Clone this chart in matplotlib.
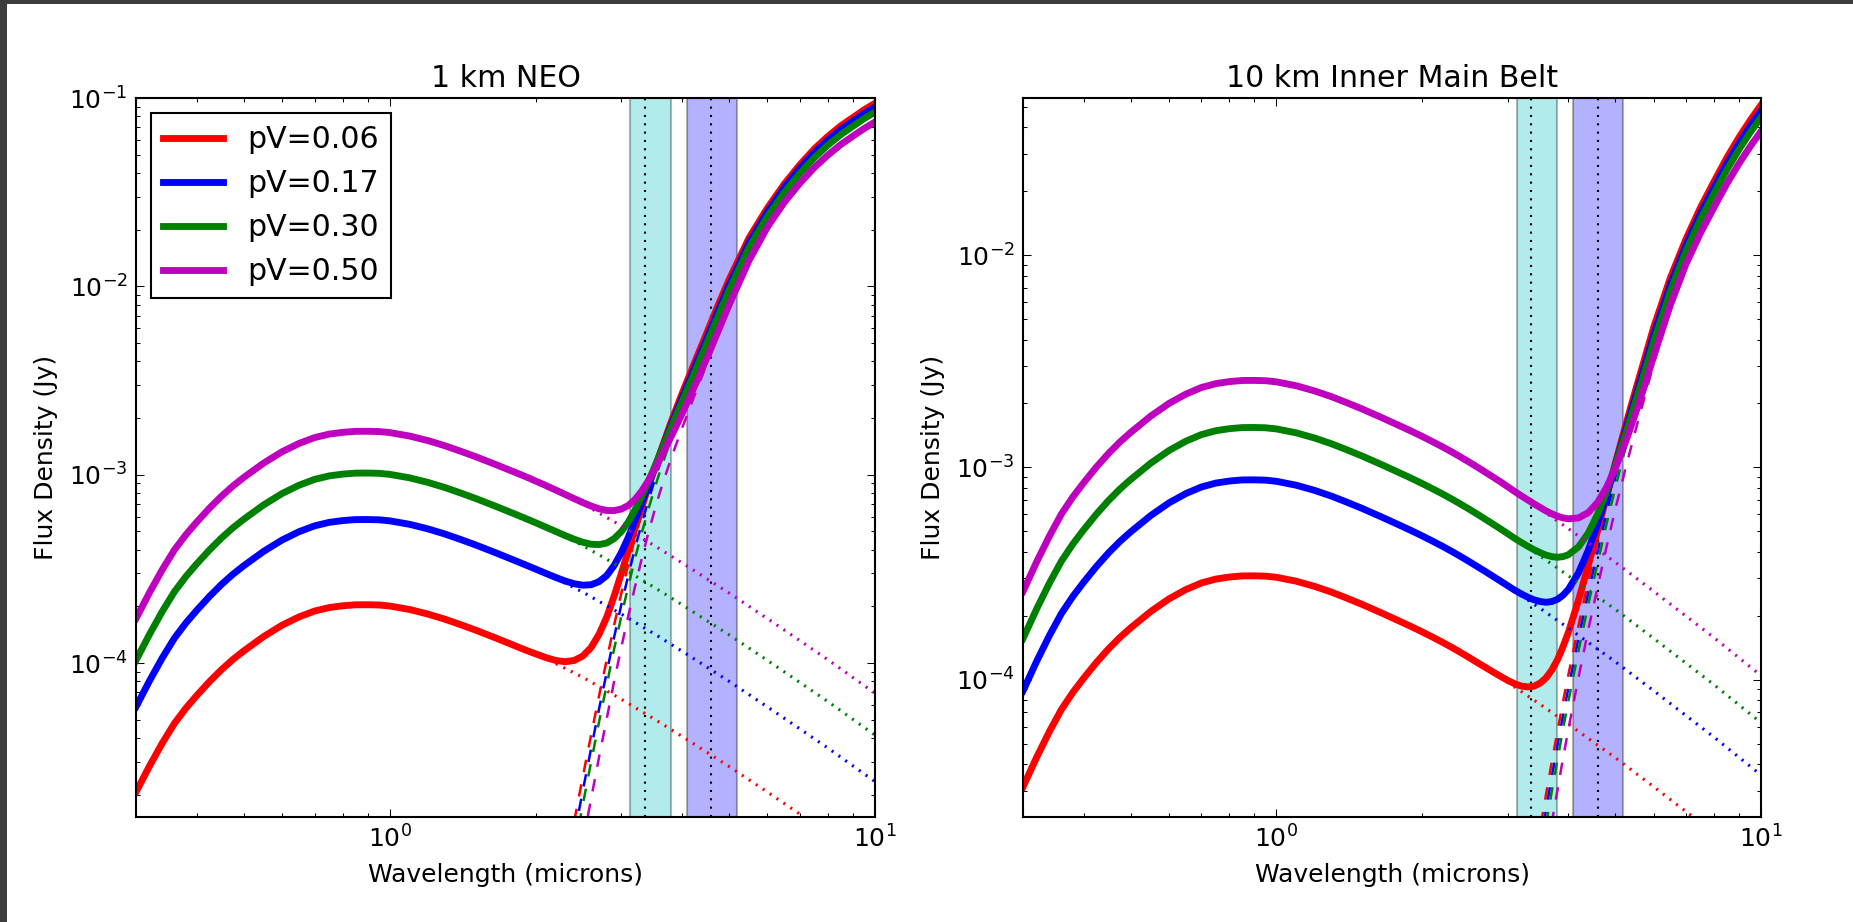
import matplotlib.pyplot as plt
from matplotlib.patches import Rectangle

plt.rcParams['axes.unicode_minus'] = False
plt.rcParams['font.family'] = ['DejaVu Sans']
plt.rcParams['mathtext.fontset'] = 'dejavusans'

albedo_labels = ['pV=0.06', 'pV=0.17', 'pV=0.30', 'pV=0.50']
albedo_colors = ['r', 'b', 'g', 'm']

# WISE-like bandpasses and their reference wavelengths (microns)
band_w1 = (3.13, 3.80)
band_w2 = (4.10, 5.20)
band_centres = [3.35, 4.60]

# ---------------- 1 km NEO ----------------
wave_neo = [0.30, 0.32, 0.34, 0.36, 0.38, 0.40, 0.425, 0.45, 0.475, 0.50, 0.55, 0.60, 0.65,
            0.70, 0.75, 0.80, 0.85, 0.90, 0.95, 1.0, 1.1, 1.2, 1.3, 1.4, 1.5, 1.65, 1.8, 1.9,
            2.0, 2.1, 2.2, 2.3, 2.4, 2.5, 2.6, 2.7, 2.8, 2.9, 3.0, 3.1, 3.2, 3.3, 3.4, 3.5,
            3.6, 3.8, 4.0, 4.25, 4.5, 4.75, 5.0, 5.5, 6.0, 6.5, 7.0, 7.5, 8.0, 8.5, 9.0,
            9.5, 10.0]
total_neo = [
    [2.07e-5, 2.85e-5, 3.77e-5, 4.79e-5, 5.76e-5, 6.72e-5, 7.97e-5, 9.23e-5, 1.045e-4, 1.16e-4,
     1.385e-4, 1.59e-4, 1.759e-4, 1.89e-4, 1.972e-4, 2.016e-4, 2.04e-4, 2.042e-4, 2.035e-4, 2.01e-4,
     1.925e-4, 1.82e-4, 1.71e-4, 1.60e-4, 1.50e-4, 1.363e-4, 1.245e-4, 1.176e-4, 1.119e-4, 1.069e-4,
     1.0325e-4, 1.0176e-4, 1.0336e-4, 1.0907e-4, 1.2108e-4, 1.4238e-4, 1.7547e-4, 2.2686e-4,
     2.9835e-4, 3.931e-4,
     5.182e-4, 6.645e-4, 8.43e-4, 1.05e-3, 1.288e-3, 1.904e-3, 2.681e-3, 3.947e-3, 5.644e-3, 7.93e-3,
     1.081e-2, 1.806e-2, 2.602e-2, 3.49e-2, 4.42e-2, 5.37e-2, 6.26e-2, 7.11e-2, 7.87e-2, 8.66e-2, 9.37e-2],
    [5.864e-5, 8.074e-5, 1.068e-4, 1.357e-4, 1.632e-4, 1.904e-4, 2.258e-4, 2.615e-4, 2.961e-4, 3.286e-4,
     3.924e-4, 4.504e-4, 4.983e-4, 5.354e-4, 5.587e-4, 5.711e-4, 5.779e-4, 5.785e-4, 5.765e-4, 5.694e-4,
     5.454e-4, 5.156e-4, 4.844e-4, 4.533e-4, 4.25e-4, 3.861e-4, 3.527e-4, 3.331e-4, 3.154e-4, 2.991e-4,
     2.8476e-4, 2.7269e-4, 2.6389e-4, 2.5924e-4, 2.6065e-4, 2.7075e-4, 2.9177e-4, 3.2965e-4,
     3.858e-4, 4.635e-4,
     5.702e-4, 6.992e-4, 8.592e-4, 1.048e-3, 1.267e-3, 1.828e-3, 2.538e-3, 3.705e-3, 5.276e-3, 7.408e-3,
     1.012e-2, 1.705e-2, 2.478e-2, 3.342e-2, 4.229e-2, 5.134e-2, 5.984e-2, 6.793e-2, 7.523e-2, 8.273e-2,
     8.952e-2],
    [1.035e-4, 1.425e-4, 1.885e-4, 2.395e-4, 2.88e-4, 3.36e-4, 3.985e-4, 4.615e-4, 5.225e-4, 5.8e-4,
     6.925e-4, 7.95e-4, 8.795e-4, 9.45e-4, 9.86e-4, 1.008e-3, 1.02e-3, 1.021e-3, 1.0175e-3, 1.005e-3,
     9.625e-4, 9.1e-4, 8.55e-4, 8.0e-4, 7.5e-4, 6.815e-4, 6.225e-4, 5.8785e-4, 5.559e-4, 5.264e-4,
     4.9955e-4, 4.752e-4, 4.5447e-4, 4.3812e-4, 4.2775e-4, 4.257e-4, 4.3405e-4, 4.581e-4,
     4.9875e-4, 5.598e-4,
     6.481e-4, 7.601e-4, 9.02e-4, 1.072e-3, 1.273e-3, 1.78e-3, 2.427e-3, 3.506e-3, 4.959e-3, 6.945e-3,
     9.492e-3, 1.609e-2, 2.343e-2, 3.144e-2, 3.978e-2, 4.827e-2, 5.626e-2, 6.386e-2, 7.075e-2, 7.775e-2,
     8.414e-2],
    [1.725e-4, 2.375e-4, 3.142e-4, 3.992e-4, 4.8e-4, 5.6e-4, 6.642e-4, 7.691e-4, 8.708e-4, 9.666e-4,
     1.1541e-3, 1.325e-3, 1.4658e-3, 1.575e-3, 1.6433e-3, 1.68e-3, 1.7e-3, 1.7016e-3, 1.6958e-3, 1.675e-3,
     1.6041e-3, 1.5166e-3, 1.425e-3, 1.3333e-3, 1.25e-3, 1.1358e-3, 1.0375e-3, 9.797e-4, 9.258e-4,
     8.755e-4,
     8.289e-4, 7.854e-4, 7.4674e-4, 7.117e-4, 6.8219e-4, 6.5984e-4, 6.4626e-4, 6.4538e-4, 6.5733e-4,
     6.86e-4,
     7.378e-4, 8.138e-4, 9.167e-4, 1.0455e-3, 1.2033e-3, 1.593e-3, 2.097e-3, 2.961e-3, 4.151e-3, 5.778e-3,
     7.936e-3, 1.372e-2, 2.063e-2, 2.791e-2, 3.526e-2, 4.277e-2, 4.98e-2, 5.659e-2, 6.268e-2, 6.888e-2,
     7.457e-2],
]
refl_wave_neo = [2.2, 2.5, 3.0, 3.5, 4.0, 5.0, 6.0, 7.0, 8.0, 10.0]
refl_neo = [
    [9.935e-5, 8.407e-5, 6.435e-5, 5.07e-5, 4.09e-5, 2.83e-5, 2.07e-5, 1.58e-5, 1.25e-5, 8.3e-6],
    [2.8146e-4, 2.3817e-4, 1.823e-4, 1.436e-4, 1.159e-4, 8.02e-5, 5.86e-5, 4.48e-5, 3.54e-5, 2.35e-5],
    [4.9675e-4, 4.2035e-4, 3.2175e-4, 2.535e-4, 2.045e-4, 1.415e-4, 1.035e-4, 7.9e-5, 6.25e-5, 4.15e-5],
    [8.279e-4, 7.006e-4, 5.362e-4, 4.225e-4, 3.41e-4, 2.36e-4, 1.725e-4, 1.317e-4, 1.042e-4, 6.92e-5],
]
heat_wave_neo = [2.4, 2.5, 2.6, 2.7, 2.8, 2.9, 3.0, 3.1, 3.2, 3.3, 3.4, 3.5, 3.6, 3.8, 4.0,
                 4.25, 4.5, 4.75, 5.0, 5.5, 6.0, 6.5, 7.0, 7.5, 8.0, 8.5, 9.0, 9.5, 10.0]
heat_neo = [
    [1.45e-5, 2.5e-5, 4.15e-5, 6.7e-5, 1.04e-4, 1.59e-4, 2.34e-4, 3.32e-4, 4.6e-4, 6.09e-4,
     7.9e-4, 9.99e-4, 1.24e-3, 1.86e-3, 2.64e-3, 3.91e-3, 5.61e-3, 7.9e-3, 1.078e-2, 1.804e-2,
     2.60e-2, 3.49e-2, 4.42e-2, 5.37e-2, 6.26e-2, 7.11e-2, 7.87e-2, 8.66e-2, 9.37e-2],
    [1.215e-5, 2.107e-5, 3.52e-5, 5.72e-5, 8.93e-5, 1.374e-4, 2.035e-4, 2.904e-4, 4.053e-4, 5.42e-4,
     7.09e-4, 9.04e-4, 1.13e-3, 1.702e-3, 2.422e-3, 3.60e-3, 5.18e-3, 7.32e-3, 1.004e-2, 1.698e-2,
     2.472e-2, 3.337e-2, 4.225e-2, 5.13e-2, 5.98e-2, 6.79e-2, 7.52e-2, 8.27e-2, 8.95e-2],
    [1.017e-5, 1.777e-5, 2.985e-5, 4.88e-5, 7.67e-5, 1.188e-4, 1.77e-4, 2.543e-4, 3.571e-4, 4.826e-4,
     6.37e-4, 8.18e-4, 1.031e-3, 1.558e-3, 2.222e-3, 3.32e-3, 4.79e-3, 6.79e-3, 9.35e-3, 1.597e-2,
     2.333e-2, 3.135e-2, 3.97e-2, 4.82e-2, 5.62e-2, 6.38e-2, 7.07e-2, 7.77e-2, 8.41e-2],
    [6.27e-6, 1.114e-5, 1.905e-5, 3.17e-5, 5.07e-5, 7.99e-5, 1.211e-4, 1.769e-4, 2.528e-4, 3.513e-4,
     4.75e-4, 6.23e-4, 8.0e-4, 1.223e-3, 1.756e-3, 2.652e-3, 3.87e-3, 5.52e-3, 7.70e-3, 1.352e-2,
     2.046e-2, 2.776e-2, 3.513e-2, 4.265e-2, 4.97e-2, 5.65e-2, 6.26e-2, 6.88e-2, 7.45e-2],
]

# ---------------- 10 km inner main belt ----------------
wave_imb = [0.30, 0.32, 0.34, 0.36, 0.38, 0.40, 0.425, 0.45, 0.475, 0.50, 0.55, 0.60, 0.65,
            0.70, 0.75, 0.80, 0.85, 0.90, 0.95, 1.0, 1.1, 1.2, 1.3, 1.4, 1.5, 1.65, 1.8, 1.9,
            2.0, 2.1, 2.2, 2.3, 2.4, 2.5, 2.6, 2.7, 2.8, 2.9, 3.0, 3.1, 3.2, 3.3, 3.4, 3.5,
            3.6, 3.7, 3.8, 3.9, 4.0, 4.2, 4.4, 4.6, 4.8, 5.0, 5.25, 5.5, 5.75, 6.0, 6.5, 7.0,
            7.5, 8.0, 8.5, 9.0, 9.5, 10.0]
total_imb = [
    [3.126e-5, 4.304e-5, 5.693e-5, 7.233e-5, 8.698e-5, 1.0147e-4, 1.2035e-4, 1.3937e-4, 1.578e-4,
     1.7516e-4, 2.0914e-4, 2.4009e-4, 2.6561e-4, 2.8539e-4, 2.9777e-4, 3.0442e-4, 3.0804e-4,
     3.0834e-4, 3.0729e-4, 3.0351e-4, 2.9068e-4, 2.7482e-4, 2.5821e-4, 2.416e-4, 2.265e-4,
     2.0581e-4, 1.88e-4, 1.7753e-4, 1.6772e-4, 1.5855e-4, 1.5002e-4, 1.4188e-4, 1.3418e-4,
     1.2695e-4, 1.2017e-4, 1.1419e-4, 1.0856e-4, 1.0362e-4, 9.92e-5, 9.561e-5, 9.33e-5, 9.24e-5,
     9.313e-5, 9.631e-5, 1.0188e-4, 1.1107e-4, 1.2404e-4, 1.4263e-4, 1.6626e-4, 2.3678e-4,
     3.4565e-4, 5.0383e-4, 7.314e-4, 1.0427e-3, 1.5683e-3, 2.2842e-3, 3.2477e-3, 4.5513e-3,
     7.8272e-3, 1.1914e-2, 1.6771e-2, 2.226e-2, 2.879e-2, 3.582e-2, 4.326e-2, 5.101e-2],
    [8.856e-5, 1.2193e-4, 1.6128e-4, 2.0491e-4, 2.4641e-4, 2.8746e-4, 3.4095e-4, 3.9483e-4, 4.4705e-4,
     4.9623e-4, 5.9249e-4, 6.8018e-4, 7.5247e-4, 8.085e-4, 8.4358e-4, 8.6242e-4, 8.7268e-4, 8.7353e-4,
     8.7055e-4, 8.5984e-4, 8.235e-4, 7.7857e-4, 7.3151e-4, 6.8445e-4, 6.4167e-4, 5.8306e-4, 5.326e-4,
     5.0294e-4, 4.7515e-4, 4.4917e-4, 4.2501e-4, 4.0195e-4, 3.8013e-4, 3.5965e-4, 3.4044e-4,
     3.2275e-4, 3.0624e-4, 2.912e-4, 2.7701e-4, 2.6412e-4, 2.5344e-4, 2.4457e-4, 2.3769e-4,
     2.3348e-4, 2.3144e-4, 2.333e-4, 2.3879e-4, 2.4972e-4, 2.6557e-4, 3.1841e-4, 4.0702e-4,
     5.4157e-4, 7.4003e-4, 1.0156e-3, 1.4852e-3, 2.1347e-3, 3.0094e-3, 4.2026e-3, 7.277e-3,
     1.1168e-2, 1.576e-2, 2.0904e-2, 2.7028e-2, 3.3613e-2, 4.0589e-2, 4.7846e-2],
    [1.563e-4, 2.152e-4, 2.8465e-4, 3.6165e-4, 4.349e-4, 5.0735e-4, 6.0175e-4, 6.9685e-4, 7.89e-4,
     8.758e-4, 1.0457e-3, 1.2005e-3, 1.3281e-3, 1.427e-3, 1.4889e-3, 1.5221e-3, 1.5402e-3, 1.5417e-3,
     1.5365e-3, 1.5176e-3, 1.4534e-3, 1.3741e-3, 1.2911e-3, 1.208e-3, 1.1325e-3, 1.0291e-3, 9.4e-4,
     8.8765e-4, 8.386e-4, 7.9275e-4, 7.501e-4, 7.094e-4, 6.709e-4, 6.3475e-4, 6.0085e-4, 5.693e-4,
     5.4e-4, 5.1305e-4, 4.8735e-4, 4.6357e-4, 4.4311e-4, 4.2503e-4, 4.0936e-4, 3.9673e-4,
     3.8604e-4, 3.7985e-4, 3.7705e-4, 3.798e-4, 3.873e-4, 4.221e-4, 4.905e-4, 6.018e-4, 7.725e-4,
     1.0137e-3, 1.4323e-3, 2.0172e-3, 2.8124e-3, 3.9023e-3, 6.7819e-3, 1.0479e-2, 1.4766e-2,
     1.9554e-2, 2.5265e-2, 3.1406e-2, 3.7909e-2, 4.4693e-2],
    [2.605e-4, 3.5866e-4, 4.744e-4, 6.0273e-4, 7.248e-4, 8.4555e-4, 1.0029e-3, 1.1614e-3, 1.315e-3,
     1.4596e-3, 1.7428e-3, 2.0007e-3, 2.2133e-3, 2.3782e-3, 2.4813e-3, 2.5367e-3, 2.5669e-3, 2.5694e-3,
     2.5606e-3, 2.5292e-3, 2.4222e-3, 2.2901e-3, 2.1517e-3, 2.0133e-3, 1.8874e-3, 1.715e-3, 1.5666e-3,
     1.4794e-3, 1.3976e-3, 1.3212e-3, 1.2501e-3, 1.1823e-3, 1.1181e-3, 1.0579e-3, 1.0014e-3,
     9.485e-4, 8.996e-4, 8.544e-4, 8.1085e-4, 7.703e-4, 7.348e-4, 7.024e-4, 6.732e-4, 6.476e-4,
     6.235e-4, 6.045e-4, 5.887e-4, 5.784e-4, 5.725e-4, 5.778e-4, 6.122e-4, 6.84e-4, 8.062e-4,
     9.874e-4, 1.3132e-3, 1.782e-3, 2.4296e-3, 3.3295e-3, 5.8365e-3, 9.0958e-3, 1.2736e-2,
     1.6837e-2, 2.1721e-2, 2.6977e-2, 3.2545e-2, 3.8354e-2],
]
refl_wave_imb = [2.8, 3.0, 3.5, 4.0, 4.5, 5.0, 6.0, 7.0, 8.0, 10.0]
refl_imb = [
    [1.0792e-4, 9.72e-5, 7.65e-5, 6.18e-5, 5.09e-5, 4.29e-5, 3.13e-5, 2.39e-5, 1.89e-5, 1.253e-5],
    [3.0574e-4, 2.7537e-4, 2.167e-4, 1.751e-4, 1.442e-4, 1.215e-4, 8.87e-5, 6.77e-5, 5.35e-5, 3.55e-5],
    [5.396e-4, 4.86e-4, 3.825e-4, 3.09e-4, 2.545e-4, 2.145e-4, 1.565e-4, 1.195e-4, 9.45e-5, 6.265e-5],
    [8.993e-4, 8.1e-4, 6.375e-4, 5.15e-4, 4.24e-4, 3.575e-4, 2.608e-4, 1.992e-4, 1.575e-4, 1.044e-4],
]
heat_wave_imb = [3.0, 3.1, 3.2, 3.3, 3.4, 3.5, 3.6, 3.7, 3.8, 3.9, 4.0, 4.2, 4.4, 4.6, 4.8,
                 5.0, 5.25, 5.5, 5.75, 6.0, 6.5, 7.0, 7.5, 8.0, 8.5, 9.0, 9.5, 10.0]
heat_imb = [
    [2.0e-6, 3.35e-6, 5.42e-6, 8.59e-6, 1.31e-5, 1.975e-5, 2.88e-5, 4.108e-5, 5.7e-5, 7.83e-5,
     1.045e-4, 1.797e-4, 2.928e-4, 4.546e-4, 6.855e-4, 1.0e-3, 1.529e-3, 2.248e-3, 3.214e-3,
     4.52e-3, 7.8e-3, 1.189e-2, 1.675e-2, 2.224e-2, 2.877e-2, 3.58e-2, 4.325e-2, 5.1e-2],
    [1.645e-6, 2.753e-6, 4.48e-6, 7.14e-6, 1.096e-5, 1.659e-5, 2.44e-5, 3.502e-5, 4.887e-5, 6.747e-5,
     9.06e-5, 1.567e-4, 2.573e-4, 4.021e-4, 6.1e-4, 8.945e-4, 1.374e-3, 2.032e-3, 2.914e-3,
     4.114e-3, 7.2e-3, 1.11e-2, 1.57e-2, 2.085e-2, 2.698e-2, 3.357e-2, 4.055e-2, 4.781e-2],
    [1.346e-6, 2.265e-6, 3.707e-6, 5.93e-6, 9.16e-6, 1.393e-5, 2.064e-5, 2.985e-5, 4.185e-5, 5.81e-5,
     7.85e-5, 1.367e-4, 2.262e-4, 3.556e-4, 5.43e-4, 8.0e-4, 1.236e-3, 1.836e-3, 2.644e-3,
     3.746e-3, 6.646e-3, 1.036e-2, 1.466e-2, 1.946e-2, 2.518e-2, 3.133e-2, 3.784e-2, 4.463e-2],
    [8.8e-7, 1.496e-6, 2.474e-6, 4.0e-6, 6.25e-6, 9.6e-6, 1.446e-5, 2.127e-5, 3.014e-5, 4.227e-5,
     5.79e-5, 1.022e-4, 1.718e-4, 2.738e-4, 4.237e-4, 6.313e-4, 9.86e-4, 1.48e-3, 2.149e-3,
     3.069e-3, 5.61e-3, 8.897e-3, 1.256e-2, 1.668e-2, 2.158e-2, 2.685e-2, 3.243e-2, 3.825e-2],
]

panels = [
    ('1 km NEO', wave_neo, total_neo, refl_wave_neo, refl_neo, heat_wave_neo, heat_neo,
     (1.53e-5, 0.1)),
    ('10 km Inner Main Belt', wave_imb, total_imb, refl_wave_imb, refl_imb, heat_wave_imb,
     heat_imb, (2.26e-5, 0.055)),
]

fig = plt.figure(figsize=(1853 / 150, 922 / 150), dpi=150)
ax_left = fig.add_axes([0.0734, 0.1142, 0.3988, 0.7795])
ax_right = fig.add_axes([0.5521, 0.1142, 0.3983, 0.7795])

for ax, (title, wave, total, rwave, refl, hwave, heat, ylims) in zip([ax_left, ax_right], panels):
    ax.axvspan(band_w1[0], band_w1[1], facecolor='c', edgecolor='k', alpha=0.3, lw=1)
    ax.axvspan(band_w2[0], band_w2[1], facecolor='b', edgecolor='k', alpha=0.3, lw=1)
    for wc in band_centres:
        ax.axvline(wc, color='k', ls=(0, (1, 3)), lw=1)

    for i in range(4):
        c = albedo_colors[i]
        ax.plot(wave, total[i], color=c, lw=3.3, label=albedo_labels[i], solid_joinstyle='round')
        ax.plot(rwave, refl[i], color=c, lw=1.5, ls=(0, (0.67, 2)))
        ax.plot(hwave, heat[i], color=c, lw=1.2, ls=(0, (5, 5)))

    ax.set_xscale('log')
    ax.set_yscale('log')
    ax.set_xlim(0.3, 10)
    ax.set_ylim(*ylims)
    ax.set_title(title, fontsize=14.4, pad=5.5)
    ax.set_xlabel('Wavelength (microns)', fontsize=12, labelpad=5)
    ax.set_ylabel('Flux Density (Jy)', fontsize=12, labelpad=5)
    ax.tick_params(which='both', direction='in', top=True, right=True, width=0.5, labelsize=12)
    ax.tick_params(which='major', length=4, pad=4)
    ax.tick_params(which='minor', length=2)
    for sp in ax.spines.values():
        sp.set_linewidth(1.0)

leg = ax_left.legend(loc='upper left', fontsize=14.4, fancybox=False, framealpha=1,
                     edgecolor='k', borderpad=0.4, labelspacing=0.5, handlelength=2.0,
                     handletextpad=0.8, borderaxespad=0.5)
leg.get_frame().set_linewidth(1.0)

# dark window border along the top and left edges
fig.patches.append(Rectangle((0, 1 - 4 / 922), 1, 4 / 922, transform=fig.transFigure,
                             facecolor='#3d3d3d', edgecolor='none', zorder=10))
fig.patches.append(Rectangle((0, 0), 7 / 1853, 1, transform=fig.transFigure,
                             facecolor='#3d3d3d', edgecolor='none', zorder=10))

fig.savefig('out.png', dpi=150)
